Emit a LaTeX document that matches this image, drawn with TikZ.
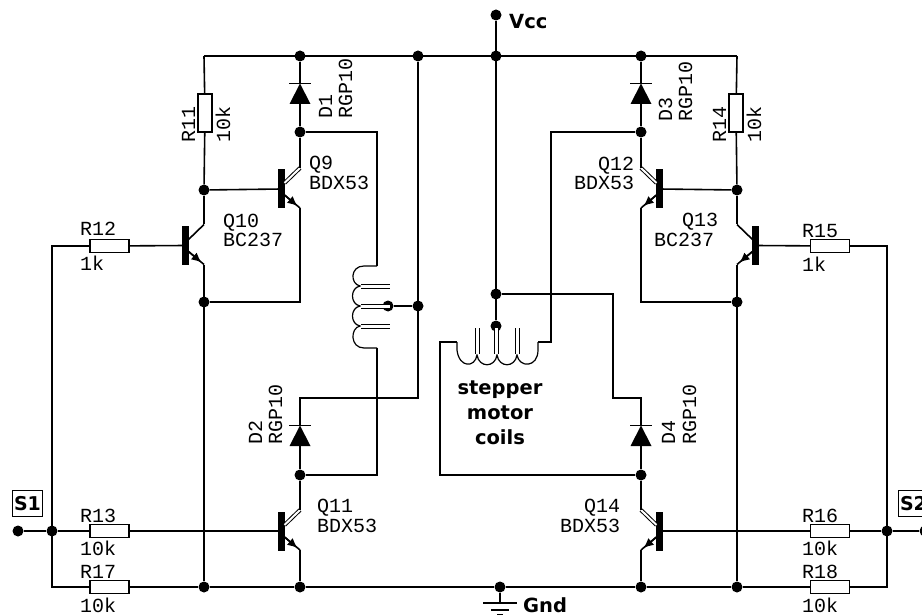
\documentclass[tikz,border=0pt]{standalone}
\usepackage{xcolor}
\usepackage{fontspec}
\setmonofont{Liberation Mono}
\setsansfont{DejaVu Sans}
\usepackage{tikz}
\usetikzlibrary{arrows.meta}

\tikzset{
	wire/.style={line width=1.6pt},
	coil/.style={line width=1.2pt},
	dot/.style={circle,fill=black,inner sep=0pt,minimum size=11pt},
	resh/.style={draw,line width=1.3pt,fill=white,inner sep=0pt,minimum width=39pt,minimum height=13pt},
	resv/.style={draw,line width=1.3pt,fill=white,inner sep=0pt,minimum width=14pt,minimum height=38pt},
	lbl/.style={font=\ttfamily\fontsize{20}{20}\selectfont,inner sep=0pt,anchor=base west},
	vlbl/.style={lbl,rotate=90},
	bold/.style={font=\sffamily\bfseries\fontsize{19.5}{25}\selectfont,inner sep=0pt,anchor=base west},
	signal/.style={draw,line width=1.5pt,font=\sffamily\bfseries\fontsize{19}{19}\selectfont,inner sep=0pt,minimum width=30pt,minimum height=26pt},
	tap/.style={line width=1pt,double,double distance=3pt},
	plainc/.style={wire},
	powerc/.style={line width=1pt,double,double distance=2pt},
	pics/npn/.style={code={
		\node[fill=black,inner sep=0pt,minimum width=7pt,minimum height=39pt] (-bar) {};
		\coordinate (-c) at (18.5,-21);
		\coordinate (-e) at (18.5,19);
		\draw[#1] (3,-6) -- (-c);
		\draw[wire] (3,6) -- (-e);
		\draw[wire,-{Latex[length=10pt,width=9pt]}] (3,6) -- (16,17);
	}},
	pics/diode/.style={code={
		\coordinate (-k) at (0,-10);
		\coordinate (-a) at (0,10);
		\fill (-10.5,10.5) -- (10.5,10.5) -- (0,-10) -- cycle;
		\draw[wire] (-11,-10) -- (11,-10);
	}},
}

\begin{document}
\begin{tikzpicture}[x=1pt,y=-1pt]
	\useasboundingbox (0,0) rectangle (922,615);

	\node[dot] at (496,15) (vcc) {};
	\node[dot] at (300,56) (top2) {};
	\node[dot] at (418,56) (top3) {};
	\node[dot] at (496,56) (top4) {};
	\node[dot] at (641,56) (top5) {};
	\coordinate (top6) at (737,56);
	\coordinate (top0) at (204,56);

	\node[dot] at (300,132) (d1a) {};
	\node[dot] at (641,132) (d3a) {};
	\node[dot] at (204,190) (b9) {};
	\node[dot] at (737,190) (b12) {};
	\node[dot] at (204,302) (e10) {};
	\node[dot] at (737,302) (e13) {};
	\node[dot] at (496,294) (ctr1) {};
	\node[dot] at (496,326) (ctr2) {};
	\node[dot] at (388,306) (ctl1) {};
	\node[dot] at (418,306) (ctl2) {};
	\node[dot] at (300,475) (d2a) {};
	\node[dot] at (641,475) (d4a) {};
	\node[dot] at (52,531) (s1j) {};
	\node[dot] at (18,531) (s1) {};
	\node[dot] at (887,531) (s2j) {};
	\node[dot] at (925,531) (s2) {};
	\node[dot] at (204,587) (g1) {};
	\node[dot] at (300,587) (g2) {};
	\node[dot] at (500,587) (g3) {};
	\node[dot] at (641,587) (g4) {};
	\node[dot] at (737,587) (g5) {};

	\node[resv] at (205,113) (R11) {};
	\node[resv] at (736,113) (R14) {};
	\node[resh] at (109.5,246) (R12) {};
	\node[resh] at (830,246) (R15) {};
	\node[resh] at (109.5,531) (R13) {};
	\node[resh] at (830,531) (R16) {};
	\node[resh] at (109.5,587) (R17) {};
	\node[resh] at (830,587) (R18) {};

	\pic (D1) at (300,93.5) {diode};
	\pic (D2) at (300,435.5) {diode};
	\pic (D3) at (641,93.5) {diode};
	\pic (D4) at (641,435.5) {diode};

	\pic (Q9) at (281.5,189) {npn=powerc};
	\pic (Q10) at (185.5,245.5) {npn=plainc};
	\pic (Q11) at (281.5,531) {npn=powerc};
	\pic[xscale=-1] (Q12) at (659.5,189) {npn=powerc};
	\pic[xscale=-1] (Q13) at (755.5,245.5) {npn=plainc};
	\pic[xscale=-1] (Q14) at (659.5,531) {npn=powerc};

	\coordinate (c1) at (377,132);
	\coordinate (c2) at (377,266);
	\coordinate (c3) at (377,348);
	\coordinate (c4) at (377,475);
	\coordinate (c5) at (418,398);
	\coordinate (c6) at (300,398);
	\coordinate (c7) at (613,294);
	\coordinate (c8) at (613,398);
	\coordinate (c9) at (641,398);
	\coordinate (c10) at (440,475);
	\coordinate (c11) at (440,342);
	\coordinate (c12) at (457,342);
	\coordinate (c13) at (538,342);
	\coordinate (c14) at (551,342);
	\coordinate (c15) at (551,132);
	\coordinate (c16) at (300,302);
	\coordinate (c17) at (641,302);
	\coordinate (c18) at (52,246);
	\coordinate (c19) at (52,587);
	\coordinate (c20) at (887,246);
	\coordinate (c21) at (887,587);
	\coordinate (gnd) at (500,603);

	\draw[wire] (top0) -- (top6);
	\draw[wire] (vcc) -- (ctr2);
	\draw[wire] (top0) -- (R11);
	\draw[wire] (R11) -- (b9);
	\draw[wire] (b9) -- (Q9-bar);
	\draw[wire] (b9) -- (Q10-c);
	\draw[wire] (Q10-e) -- (g1);
	\draw[wire] (e10) -- (c16) -- (Q9-e);
	\draw[wire] (top2) -- (D1-k);
	\draw[wire] (D1-a) -- (d1a);
	\draw[wire] (d1a) -- (Q9-c);
	\draw[wire] (d1a) -- (c1) -- (c2);
	\draw[wire] (top3) -- (c5) -- (c6) -- (D2-k);
	\draw[wire] (ctl1) -- (ctl2);
	\draw[wire] (c3) -- (c4) -- (d2a);
	\draw[wire] (D2-a) -- (d2a);
	\draw[wire] (d2a) -- (Q11-c);
	\draw[wire] (Q11-e) -- (g2);
	\draw[wire] (R13) -- (Q11-bar);
	\draw[wire] (s1) -- (s1j);
	\draw[wire] (s1j) -- (R13);
	\draw[wire] (R12) -- (c18) -- (c19) -- (R17);
	\draw[wire] (R12) -- (Q10-bar);
	\draw[wire] (R17) -- (g1) -- (g2) -- (g3) -- (g4) -- (g5) -- (R18);
	\draw[wire] (R18) -- (c21) -- (c20) -- (R15);
	\draw[wire] (R15) -- (Q13-bar);
	\draw[wire] (s2j) -- (R16);
	\draw[wire] (s2j) -- (s2);
	\draw[wire] (R16) -- (Q14-bar);
	\draw[wire] (Q14-e) -- (g4);
	\draw[wire] (d4a) -- (Q14-c);
	\draw[wire] (D4-a) -- (d4a);
	\draw[wire] (ctr1) -- (c7) -- (c8) -- (c9) -- (D4-k);
	\draw[wire] (d4a) -- (c10) -- (c11) -- (c12);
	\draw[wire] (c13) -- (c14) -- (c15) -- (d3a);
	\draw[wire] (top5) -- (D3-k);
	\draw[wire] (D3-a) -- (d3a);
	\draw[wire] (d3a) -- (Q12-c);
	\draw[wire] (Q12-bar) -- (b12);
	\draw[wire] (Q12-e) -- (c17) -- (e13);
	\draw[wire] (top6) -- (R14);
	\draw[wire] (R14) -- (b12);
	\draw[wire] (b12) -- (Q13-c);
	\draw[wire] (Q13-e) -- (g5);
	\draw[wire] (g3) -- (gnd);
	\draw[wire] ([xshift=-17pt]gnd) -- ([xshift=17pt]gnd);
	\draw[wire] (491,610) -- (509,610);
	\draw[wire] (497,615) -- (503,615);

	\draw[coil] (c2) -- (364,266) .. controls (350,266) and (350,284) .. (360,286)
		.. controls (350,288) and (350,304) .. (360,306)
		.. controls (350,308) and (350,324) .. (360,326)
		.. controls (350,328) and (350,348) .. (364,348) -- (c3);
	\foreach \yy in {286,306,326}
		\draw[tap] (361,\yy) -- (390,\yy);

	\draw[coil] (c12) -- (457,350) .. controls (459,368) and (475,368) .. (477,355)
		.. controls (479,368) and (495,368) .. (497,355)
		.. controls (499,368) and (515,368) .. (517,355)
		.. controls (519,368) and (538,368) .. (538,350) -- (c13);
	\foreach \xx in {477,496,517}
		\draw[tap] (\xx,354) -- (\xx,328);

	\node[lbl] at (309,170) (q9a) {Q9};
	\node[lbl] at (309,190) (q9b) {BDX53};
	\node[lbl] at (223,228) (q10a) {Q10};
	\node[lbl] at (223,247) (q10b) {BC237};
	\node[lbl] at (317,512) (q11a) {Q11};
	\node[lbl] at (317,532) (q11b) {BDX53};
	\node[lbl] at (598,171) (q12a) {Q12};
	\node[lbl] at (574,190) (q12b) {BDX53};
	\node[lbl] at (682,227) (q13a) {Q13};
	\node[lbl] at (654,247) (q13b) {BC237};
	\node[lbl] at (584,512) (q14a) {Q14};
	\node[lbl] at (560,532) (q14b) {BDX53};

	\node[lbl] at (80,236) (r12a) {R12};
	\node[lbl] at (80,270) (r12b) {1k};
	\node[lbl] at (80,522) (r13a) {R13};
	\node[lbl] at (80,555) (r13b) {10k};
	\node[lbl] at (80,578) (r17a) {R17};
	\node[lbl] at (80,612) (r17b) {10k};
	\node[lbl] at (802,237) (r15a) {R15};
	\node[lbl] at (802,271) (r15b) {1k};
	\node[lbl] at (802,522) (r16a) {R16};
	\node[lbl] at (802,555) (r16b) {10k};
	\node[lbl] at (802,578) (r18a) {R18};
	\node[lbl] at (802,612) (r18b) {10k};

	\node[vlbl] at (195,143) (r11a) {R11};
	\node[vlbl] at (230,143) (r11b) {10k};
	\node[vlbl] at (726,143) (r14a) {R14};
	\node[vlbl] at (761,143) (r14b) {10k};
	\node[vlbl] at (332,119) (d1x) {D1};
	\node[vlbl] at (352,119) (d1y) {RGP10};
	\node[vlbl] at (262,445) (d2x) {D2};
	\node[vlbl] at (282,445) (d2y) {RGP10};
	\node[vlbl] at (672,122) (d3x) {D3};
	\node[vlbl] at (692,122) (d3y) {RGP10};
	\node[vlbl] at (675,445) (d4x) {D4};
	\node[vlbl] at (696,445) (d4y) {RGP10};

	\node[bold] at (509,29) (vcclbl) {Vcc};
	\node[bold] at (523,612) (gndlbl) {Gnd};
	\node[bold,anchor=center,align=center] at (500,413) (coils) {stepper\\motor\\coils};
	\node[signal] at (27.5,503.5) (s1lbl) {S1};
	\node[signal] at (913.5,503.5) (s2lbl) {S2};
\end{tikzpicture}
\end{document}
